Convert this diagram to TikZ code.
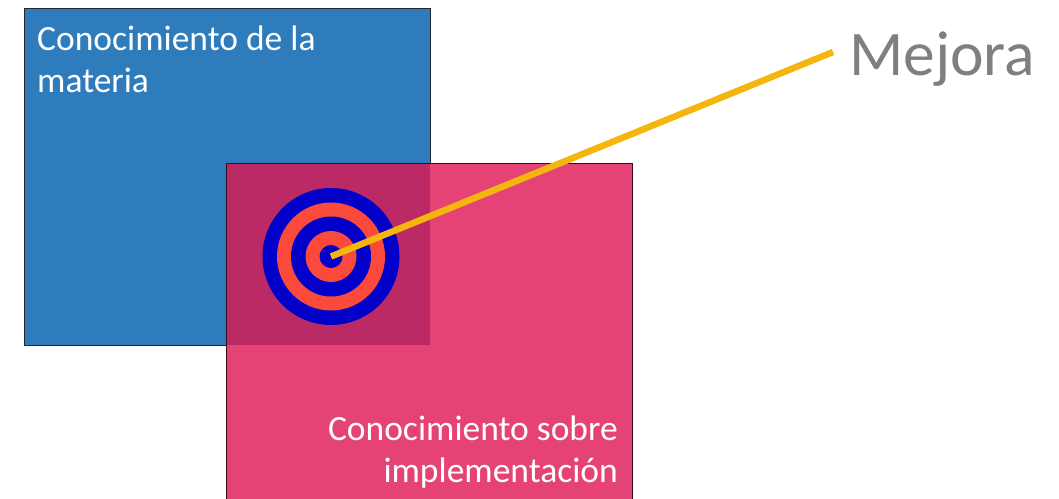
\documentclass[tikz,border=0pt]{standalone}
\usepackage{fontspec}
\setmainfont{Carlito}
\definecolor{boxblue}{HTML}{2E7CBC}
\definecolor{boxpink}{HTML}{E54376}
\definecolor{boxboth}{HTML}{BC2A66}
\definecolor{ringblue}{HTML}{0000C8}
\definecolor{ringred}{HTML}{FB4A3C}
\definecolor{linegold}{HTML}{F5B50F}
\definecolor{textgrey}{HTML}{7F7F7F}
\tikzset{
  ring/.style={circle, draw=none, inner sep=0pt},
  boxlabel/.style={text=white, font=\fontsize{35.5}{42}\selectfont, inner sep=0pt, align=left}
}
\begin{document}
\begin{tikzpicture}[x=1pt,y=-1pt]
      \useasboundingbox (0,0) rectangle (1059,498);
      \clip (0,0) rectangle (1059,498);
      \draw[thick, draw=black!85, fill=boxblue] (24,8) rectangle (430,345);
      \draw[thick, draw=black!70!boxboth, fill=boxpink] (226,163) rectangle (632,510);
      \fill[boxboth] (227,164) rectangle (430,345);
      % target
      \node[ring, fill=ringblue, minimum size=137pt] (ringa) at (331,256.5) {};
      \node[ring, fill=ringred, minimum size=108pt] (ringb) at (ringa.center) {};
      \node[ring, fill=ringblue, minimum size=80pt] (ringc) at (ringa.center) {};
      \node[ring, fill=ringred, minimum size=51pt] (ringd) at (ringa.center) {};
      \node[ring, fill=ringblue, minimum size=23pt] (ringe) at (ringa.center) {};
      \node[anchor=base west, text=textgrey, inner sep=0pt, font=\fontsize{63.5}{70}\selectfont] (mejora) at (849,75) {Mejora};
      \coordinate (lineend) at (833,52);
      \draw[line width=6.5pt, draw=linegold] (ringe.center) -- (lineend);
      \node[boxlabel, anchor=base west] (materia) at (37,92) {Conocimiento de la\\materia};
      \node[boxlabel, anchor=base east, align=right] (impl) at (618,482) {Conocimiento sobre\\implementación};
\end{tikzpicture}
\end{document}
